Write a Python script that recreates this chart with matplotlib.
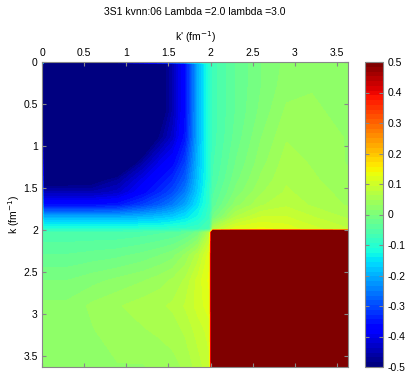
import numpy as np
import matplotlib
matplotlib.use('Agg')
import matplotlib.pyplot as plt
from matplotlib.colors import Normalize
from matplotlib.cm import ScalarMappable

plt.rcParams['font.family'] = ['Liberation Sans', 'DejaVu Sans']

# momentum grid (fm^-1), same for k and k'
k_grid = [0.0, 0.02, 0.3, 0.6, 0.9, 1.2, 1.4, 1.55, 1.7, 1.85, 1.99,
          2.03, 2.3, 2.6, 2.9, 3.2, 3.63]

# block k<2, k'<2
v_low_low = [
    [-0.02, -0.05, -0.05, -0.05, -0.05, -0.08, -0.10, -0.12, -0.12, -0.10, -0.07],
    [-0.05, -0.80, -0.80, -0.80, -0.78, -0.64, -0.52, -0.45, -0.36, -0.20, -0.10],
    [-0.05, -0.80, -0.80, -0.80, -0.78, -0.64, -0.52, -0.45, -0.36, -0.20, -0.10],
    [-0.05, -0.80, -0.80, -0.80, -0.77, -0.63, -0.52, -0.45, -0.36, -0.20, -0.10],
    [-0.05, -0.78, -0.78, -0.77, -0.72, -0.58, -0.48, -0.43, -0.35, -0.20, -0.10],
    [-0.08, -0.64, -0.64, -0.63, -0.58, -0.46, -0.40, -0.37, -0.31, -0.19, -0.10],
    [-0.10, -0.52, -0.52, -0.51, -0.47, -0.40, -0.36, -0.33, -0.28, -0.18, -0.10],
    [-0.12, -0.45, -0.45, -0.45, -0.43, -0.37, -0.33, -0.30, -0.25, -0.17, -0.09],
    [-0.12, -0.36, -0.36, -0.36, -0.35, -0.31, -0.28, -0.25, -0.21, -0.15, -0.09],
    [-0.10, -0.20, -0.20, -0.20, -0.20, -0.19, -0.18, -0.17, -0.15, -0.12, -0.08],
    [-0.07, -0.10, -0.10, -0.10, -0.10, -0.10, -0.10, -0.09, -0.09, -0.08, -0.06],
]
# block k<2, k'>2
v_low_high = [
    [-0.07, -0.030, 0.000, 0.020, 0.025, 0.025],
    [-0.07, -0.030, 0.000, 0.020, 0.025, 0.025],
    [-0.07, -0.030, 0.000, 0.025, 0.030, 0.025],
    [-0.07, -0.030, 0.005, 0.035, 0.035, 0.025],
    [-0.07, -0.025, 0.015, 0.045, 0.040, 0.030],
    [-0.065, -0.015, 0.025, 0.055, 0.045, 0.030],
    [-0.06, -0.005, 0.035, 0.060, 0.050, 0.035],
    [-0.05, 0.005, 0.045, 0.065, 0.055, 0.040],
    [-0.04, 0.025, 0.060, 0.075, 0.060, 0.045],
    [-0.01, 0.065, 0.095, 0.095, 0.080, 0.060],
    [0.07, 0.120, 0.130, 0.120, 0.100, 0.080],
]
# block k>2, k'<2
v_high_low = [
    [-0.06, -0.06, -0.06, -0.06, -0.06, -0.055, -0.05, -0.045, -0.035, -0.01, 0.07],
    [-0.03, -0.03, -0.03, -0.025, -0.02, -0.01, 0.00, 0.01, 0.035, 0.07, 0.12],
    [0.00, 0.00, 0.00, 0.01, 0.02, 0.03, 0.04, 0.05, 0.065, 0.10, 0.13],
    [0.02, 0.02, 0.02, 0.035, 0.045, 0.055, 0.06, 0.065, 0.08, 0.10, 0.12],
    [0.025, 0.025, 0.025, 0.03, 0.04, 0.045, 0.05, 0.055, 0.065, 0.085, 0.10],
    [0.025, 0.025, 0.025, 0.025, 0.03, 0.03, 0.035, 0.04, 0.05, 0.07, 0.09],
]
# block k>2, k'>2
v_high_high = [[0.9] * 6 for _ in range(6)]

x_ticks = [0, 0.5, 1, 1.5, 2, 2.5, 3, 3.5]
tick_labels = ['0', '0.5', '1', '1.5', '2', '2.5', '3', '3.5']
cb_ticks = [-0.5, -0.4, -0.3, -0.2, -0.1, 0, 0.1, 0.2, 0.3, 0.4, 0.5]
cb_labels = ['-0.5', '-0.4', '-0.3', '-0.2', '-0.1', '0', '0.1', '0.2', '0.3', '0.4', '0.5']

V = np.block([[np.array(v_low_low), np.array(v_low_high)],
              [np.array(v_high_low), np.array(v_high_high)]])
KP, K = np.meshgrid(k_grid, k_grid)   # KP: k' (columns), K: k (rows)

cmap = plt.get_cmap('jet', 64)
norm = Normalize(-0.5, 0.5)
levels = np.linspace(-0.5, 0.5, 65)

fig = plt.figure(figsize=(4.05, 3.74), dpi=100)
ax = fig.add_axes([42 / 405, 7 / 374, 306 / 405, 305 / 374])
cs = ax.contourf(KP, K, V, levels=levels, cmap=cmap, norm=norm,
                 extend='both', antialiased=False)
ax.set_xlim(0, 3.63)
ax.set_ylim(3.63, 0)
ax.xaxis.tick_top()
ax.xaxis.set_label_position('top')
ax.set_xticks(x_ticks)
ax.set_xticklabels(tick_labels)
ax.set_yticks(x_ticks)
ax.set_yticklabels(tick_labels)
ax.tick_params(direction='in', length=3, labelsize=7.5, pad=3, color='#888888',
               top=True, right=True, bottom=True, left=True)
for s in ax.spines.values():
    s.set_color('#888888')
ax.set_xlabel("k' (fm$^{-1}$)", fontsize=7.5, labelpad=5)
ax.set_ylabel("k (fm$^{-1}$)", fontsize=7.5, labelpad=1)
fig.text(195 / 405, 1 - 12 / 374, '3S1 kvnn:06 Lambda =2.0 lambda =3.0',
         ha='center', va='center', fontsize=7.5)

cax = fig.add_axes([365 / 405, 7 / 374, 18 / 405, 305 / 374])
sm = ScalarMappable(norm=norm, cmap=cmap)
cb = fig.colorbar(sm, cax=cax)
cb.set_ticks(cb_ticks)
cb.set_ticklabels(cb_labels)
cb.outline.set_edgecolor('#888888')
cax.tick_params(direction='in', length=3, labelsize=7.5, pad=3, color='#888888',
                left=True, right=True)

fig.savefig('out.png', dpi=100)
